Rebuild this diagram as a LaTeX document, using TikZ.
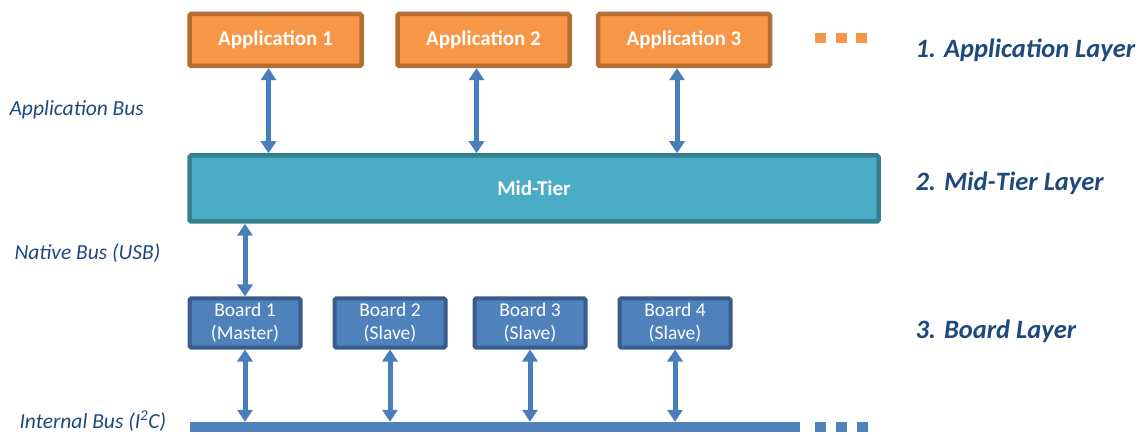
\documentclass[tikz,border=0pt]{standalone}
\usepackage{fontspec}
\setmainfont{Carlito}
\usetikzlibrary{arrows.meta}

\definecolor{apporange}{HTML}{F79646}
\definecolor{appborder}{HTML}{B66D31}
\definecolor{midfill}{HTML}{4BACC6}
\definecolor{midborder}{HTML}{357F91}
\definecolor{boardfill}{HTML}{4F81BD}
\definecolor{boardborder}{HTML}{385D8A}
\definecolor{busblue}{HTML}{4A7EBB}
\definecolor{labelblue}{HTML}{1F497D}

\tikzset{
  appbox/.style={draw=appborder, fill=apporange, line width=4.5pt, rounded corners=1.5pt,
    minimum width=172pt, minimum height=52pt, inner sep=0pt,
    text=white, font=\fontsize{21}{25}\selectfont\bfseries},
  midbox/.style={draw=midborder, fill=midfill, line width=4.5pt, rounded corners=1.5pt,
    minimum width=689pt, minimum height=66pt, inner sep=0pt,
    text=white, font=\fontsize{21}{25}\selectfont\bfseries},
  boardbox/.style={draw=boardborder, fill=boardfill, line width=4pt, rounded corners=1.5pt,
    minimum width=111pt, minimum height=49pt, inner sep=0pt, align=center,
    text=white, font=\fontsize{19.5}{23}\selectfont},
  buslabel/.style={anchor=west, text=labelblue, font=\fontsize{21.5}{25}\selectfont\itshape},
  layerlabel/.style={anchor=west, text=labelblue, font=\fontsize{26.5}{31}\selectfont\bfseries\itshape},
  link/.style={draw=busblue, line width=5pt, {Triangle[width=15pt,length=12pt]}-{Triangle[width=15pt,length=12pt]}},
}

\begin{document}
\begin{tikzpicture}[x=1pt, y=-1pt]
\useasboundingbox (0,0) rectangle (1145,435);

% application layer
\node[appbox] (app1) at (275.5,40) {Application 1};
\node[appbox] (app2) at (483.5,40) {Application 2};
\node[appbox] (app3) at (684,40) {Application 3};
\foreach \x in {820,841,861} \fill[apporange] (\x-5.5,33) rectangle (\x+5.5,43);

% mid tier
\node[midbox] (mid) at (534,188.5) {Mid-Tier};

% boards
\node[boardbox] (board1) at (245,323) {Board 1\\(Master)};
\node[boardbox] (board2) at (390,323) {Board 2\\(Slave)};
\node[boardbox] (board3) at (530,323) {Board 3\\(Slave)};
\node[boardbox] (board4) at (675,323) {Board 4\\(Slave)};

% internal bus
\node[fill=boardfill, minimum width=610pt, minimum height=10pt, inner sep=0pt] (bus) at (495,427) {};
\foreach \x in {820,841,862} \fill[boardfill] (\x-5.5,422) rectangle (\x+5.5,432);

% connectors
\foreach \a in {app1,app2,app3}
  \draw[link] ([xshift=-7pt]\a.south) -- ([xshift=-7pt]\a.south |- mid.north);
\draw[link] (mid.south -| board1.north) -- (board1.north);
\foreach \b in {board1,board2,board3,board4}
  \draw[link] (\b.south) -- (\b.south |- bus.north);

% labels
\node[buslabel] (appbus) at (6,110) {Application Bus};
\node[buslabel] (nativebus) at (11,253) {Native Bus (USB)};
\node[buslabel] (internalbus) at (16,421) {Internal Bus (I\textsuperscript{2}C)};
\node[layerlabel] (applayer) at (912,50) {1. Application Layer};
\node[layerlabel] (midlayer) at (912,183) {2. Mid-Tier Layer};
\node[layerlabel] (boardlayer) at (912,331) {3. Board Layer};
\end{tikzpicture}
\end{document}
